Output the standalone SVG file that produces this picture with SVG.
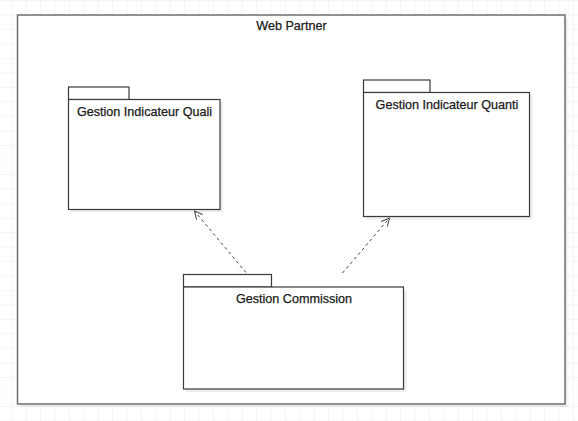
<svg xmlns="http://www.w3.org/2000/svg" width="578" height="421" viewBox="0 0 578 421">
  <defs>
    <pattern id="grid" x="11.3" y="0" width="14.4" height="14.5" patternUnits="userSpaceOnUse">
      <path d="M0 0 V14.5 M0 0 H14.4" fill="none" stroke="#ebebeb" stroke-width="1"/>
    </pattern>
    <marker id="open" viewBox="0 0 10 10" refX="9" refY="5" markerWidth="10" markerHeight="10" orient="auto" markerUnits="userSpaceOnUse">
      <path d="M1 1 L9 5 L1 9" fill="none" stroke="#444" stroke-width="1"/>
    </marker>
  </defs>
  <style>
    .pkg { fill: #ffffff; stroke: #3a3a3a; stroke-width: 1.2; }
    .shadow { fill: #000; opacity: 0.07; }
    .lbl { font-family: "Liberation Sans", Arial, sans-serif; font-size: 12.6px; fill: #1a1a1a; stroke: #1a1a1a; stroke-width: 0.25; text-anchor: middle; }
    .dep { fill: none; stroke: #444; stroke-width: 1; stroke-dasharray: 3 3; marker-end: url(#open); }
  </style>
  <rect width="578" height="421" fill="#ffffff"/>
  <rect width="578" height="421" fill="url(#grid)"/>

  <g id="web-partner">
    <rect x="20" y="18" width="547.5" height="389" class="shadow"/>
    <rect x="17.5" y="15" width="547.5" height="389" fill="#ffffff" stroke="#6e6e6e" stroke-width="1.5"/>
    <text x="291.5" y="30" class="lbl">Web Partner</text>
  </g>

  <g id="quali">
    <rect x="71" y="102" width="152" height="110" class="shadow"/>
    <rect x="68.5" y="87" width="60.5" height="12.5" class="pkg"/>
    <rect x="68.5" y="99.5" width="151.5" height="110" class="pkg"/>
    <text x="144.5" y="116" class="lbl">Gestion Indicateur Quali</text>
  </g>

  <g id="quanti">
    <rect x="366" y="95" width="166.5" height="124.5" class="shadow"/>
    <rect x="363.5" y="80" width="66.5" height="12.5" class="pkg"/>
    <rect x="363.5" y="92.5" width="166" height="124" class="pkg"/>
    <text x="447" y="108.5" class="lbl">Gestion Indicateur Quanti</text>
  </g>

  <g id="commission">
    <rect x="186" y="290" width="220.5" height="102" class="shadow"/>
    <rect x="183.5" y="274.5" width="88" height="12.5" class="pkg"/>
    <rect x="183.5" y="287" width="220" height="102" class="pkg"/>
    <text x="294" y="302.5" class="lbl">Gestion Commission</text>
  </g>

  <g id="connectors">
    <line x1="246" y1="272.5" x2="194.5" y2="211" class="dep"/>
    <line x1="342.5" y1="273" x2="389.5" y2="218" class="dep"/>
  </g>
</svg>
